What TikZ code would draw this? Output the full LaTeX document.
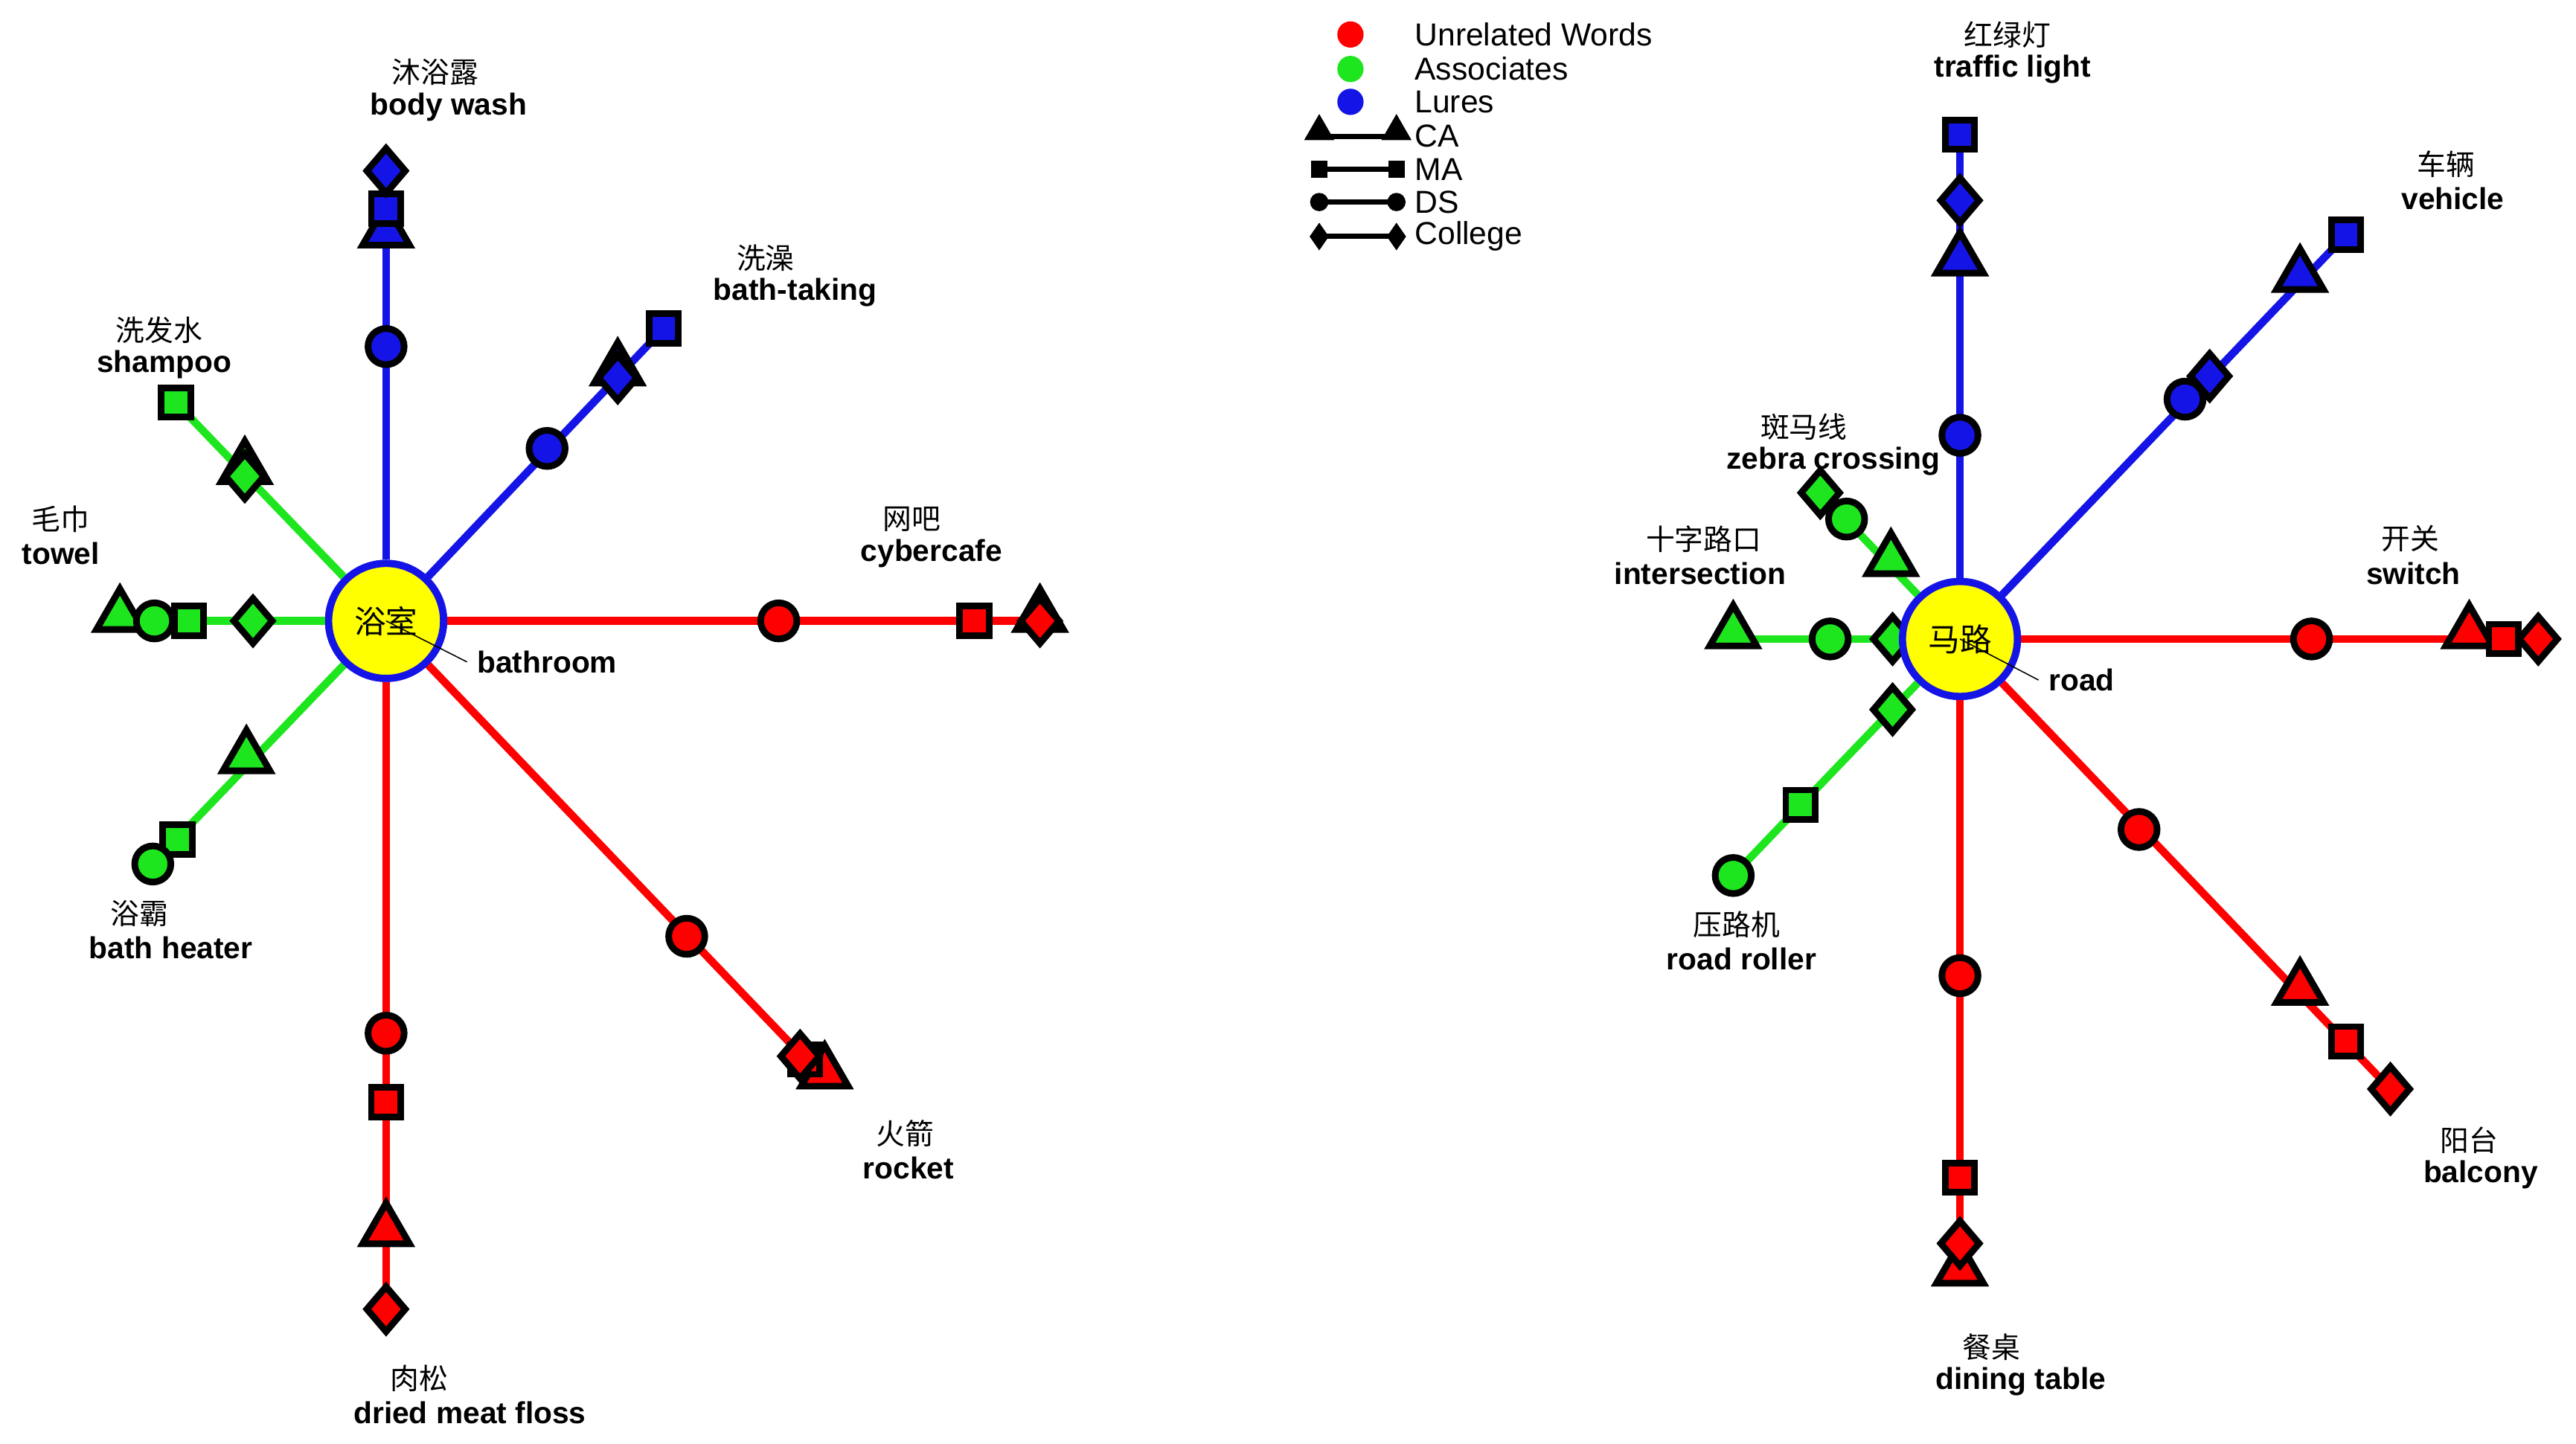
\documentclass[tikz,border=0pt]{standalone}
\usepackage{fontspec}
\setmainfont{Liberation Sans}
\newfontfamily\cjk{Noto Sans CJK SC}
\usetikzlibrary{shapes.geometric}
\definecolor{R}{RGB}{255,0,0}
\definecolor{G}{RGB}{30,230,30}
\definecolor{B}{RGB}{20,20,230}
\definecolor{Y}{RGB}{255,255,0}
\tikzset{
 spoke/.style={line width=2.7pt},
 mk/.style={draw=black,line width=2.3pt,inner sep=0pt},
 ci/.style={mk,circle,minimum size=0.44cm},
 sq/.style={mk,rectangle,minimum size=0.36cm},
 tr/.style={mk,regular polygon,regular polygon sides=3,minimum size=0.66cm},
 di/.style={mk,diamond,minimum width=0.5cm,minimum height=0.58cm},
 hub/.style={circle,draw=B,fill=Y,line width=2.5pt,minimum size=1.4cm,inner sep=0pt,font=\cjk\fontsize{11}{12}\selectfont},
 zh/.style={font=\cjk\fontsize{10}{12}\selectfont},
 en/.style={font=\bfseries\fontsize{10.5}{12}\selectfont},
 lg/.style={font=\fontsize{11}{12}\selectfont,anchor=west},
}
\newcommand\mk[4]{\node[#1,fill=#2] at (#3,#4) {};}
\begin{document}
\begin{tikzpicture}[x=0.02cm,y=-0.02cm]
\useasboundingbox (0,0) rectangle (1568,879);
% ---------- left hub ----------
\coordinate (a1) at (235,100); \coordinate (a2) at (404,200);
\coordinate (a3) at (107,245); \coordinate (a4) at (633,378);
\coordinate (a5) at (73,378);  \coordinate (a6) at (93,526);
\coordinate (a7) at (235,797); \coordinate (a8) at (500,655);
\node[hub] (h1) at (235,378) {};
\draw[spoke,B] (h1) -- (a1); \draw[spoke,B] (h1) -- (a2);
\draw[spoke,G] (h1) -- (a3); \draw[spoke,R] (h1) -- (a4);
\draw[spoke,G] (h1) -- (a5); \draw[spoke,G] (h1) -- (a6);
\draw[spoke,R] (h1) -- (a7); \draw[spoke,R] (h1) -- (a8);
\node[hub] (h1) at (235,378) {浴室};
\node[en] (l1) at (333,403) {bathroom}; \draw[thin] (h1.center) -- (l1.west);
% up
\mk{ci}{B}{235}{211}\mk{tr}{B}{235}{141}\mk{sq}{B}{235}{127}\mk{di}{B}{235}{104}
\node[zh] at (265,44) {沐浴露}; \node[en] at (273,65) {body wash};
% NE
\mk{ci}{B}{333}{273}\mk{tr}{B}{376}{225}\mk{di}{B}{376}{230}\mk{sq}{B}{404}{200}
\node[zh] at (466,157) {洗澡}; \node[en] at (484,178) {bath-taking};
% NW
\mk{sq}{G}{107}{245}\mk{tr}{G}{149}{285}\mk{di}{G}{149}{290}
\node[zh] at (97,201) {洗发水}; \node[en] at (100,222) {shampoo};
% right
\mk{ci}{R}{474}{378}\mk{sq}{R}{593}{378}\mk{tr}{R}{633}{375}\mk{di}{R}{633}{378}
\node[zh] at (555,316) {网吧}; \node[en] at (567,337) {cybercafe};
% left
\mk{tr}{G}{73}{375}\mk{ci}{G}{94}{378}\mk{sq}{G}{115}{378}\mk{di}{G}{154}{378}
\node[zh] at (37,316) {毛巾}; \node[en] at (37,337) {towel};
% SW
\mk{tr}{G}{150}{461}\mk{sq}{G}{108}{511}\mk{ci}{G}{93}{526}
\node[zh] at (85,556) {浴霸}; \node[en] at (104,577) {bath heater};
% down
\mk{ci}{R}{235}{629}\mk{sq}{R}{235}{671}\mk{tr}{R}{235}{749}\mk{di}{R}{235}{797}
\node[zh] at (255,839) {肉松}; \node[en] at (286,860) {dried meat floss};
% SE
\mk{ci}{R}{418}{570}\mk{tr}{R}{502}{653}\mk{sq}{R}{490}{645}\mk{di}{R}{487}{643}
\node[zh] at (551,690) {火箭}; \node[en] at (553,711) {rocket};
% ---------- right hub ----------
\coordinate (b1) at (1193,82);  \coordinate (b2) at (1428,143);
\coordinate (b3) at (1108,300); \coordinate (b4) at (1545,389);
\coordinate (b5) at (1055,389); \coordinate (b6) at (1055,533);
\coordinate (b7) at (1193,775); \coordinate (b8) at (1455,663);
\node[hub] (h2) at (1193,389) {};
\draw[spoke,B] (h2) -- (b1); \draw[spoke,B] (h2) -- (b2);
\draw[spoke,G] (h2) -- (b3); \draw[spoke,R] (h2) -- (b4);
\draw[spoke,G] (h2) -- (b5); \draw[spoke,G] (h2) -- (b6);
\draw[spoke,R] (h2) -- (b7); \draw[spoke,R] (h2) -- (b8);
% up
\mk{sq}{B}{1193}{82}\mk{di}{B}{1193}{122}\mk{tr}{B}{1193}{158}\mk{ci}{B}{1193}{265}
\node[zh] at (1222,21) {红绿灯}; \node[en] at (1225,42) {traffic light};
% NE
\mk{sq}{B}{1428}{143}\mk{tr}{B}{1400}{168}\mk{di}{B}{1345}{229}\mk{ci}{B}{1330}{243}
\node[zh] at (1489,100) {车辆}; \node[en] at (1493,121) {vehicle};
% NW
\mk{tr}{G}{1151}{341}\mk{di}{G}{1108}{300}\mk{ci}{G}{1124}{316}
\node[zh] at (1098,260) {斑马线}; \node[en] at (1116,281) {zebra crossing};
% left
\mk{tr}{G}{1055}{385}\mk{ci}{G}{1114}{389}\mk{di}{G}{1152}{389}
\node[zh] at (1037,328) {十字路口}; \node[en] at (1035,349) {intersection};
% right
\mk{ci}{R}{1407}{389}\mk{tr}{R}{1503}{385}\mk{sq}{R}{1524}{389}\mk{di}{R}{1545}{389}
\node[zh] at (1467,328) {开关}; \node[en] at (1469,349) {switch};
% SW
\mk{di}{G}{1152}{432}\mk{sq}{G}{1096}{490}\mk{ci}{G}{1055}{533}
\node[zh] at (1057,563) {压路机}; \node[en] at (1060,584) {road roller};
% down
\mk{ci}{R}{1193}{594}\mk{sq}{R}{1193}{717}\mk{tr}{R}{1193}{773}\mk{di}{R}{1193}{757}
\node[zh] at (1212,820) {餐桌}; \node[en] at (1230,841) {dining table};
% SE
\mk{ci}{R}{1302}{505}\mk{tr}{R}{1400}{602}\mk{sq}{R}{1428}{634}\mk{di}{R}{1455}{663}
\node[zh] at (1503,694) {阳台}; \node[en] at (1510,715) {balcony};
\node[hub] (h2b) at (1193,389) {马路};
\node[en] (l2) at (1267,414) {road}; \draw[thin] (h2b.center) -- (l2.west);
% ---------- legend ----------
\fill[R] (822,21) circle (8); \node[lg] at (855,21) {Unrelated Words};
\fill[G] (822,42) circle (8); \node[lg] at (855,42) {Associates};
\fill[B] (822,62) circle (8); \node[lg] at (855,62) {Lures};
\tikzset{lm/.style={draw=black,line width=1.2pt,fill=black,inner sep=0pt}}
\coordinate (c1) at (803,83); \coordinate (c2) at (850,83);
\draw[line width=1.8pt] (c1) -- (c2);
\node[lm,regular polygon,regular polygon sides=3,minimum size=0.34cm] at (803,80) {};
\node[lm,regular polygon,regular polygon sides=3,minimum size=0.34cm] at (850,80) {};
\node[lg] at (855,83) {CA};
\coordinate (c3) at (803,103); \coordinate (c4) at (850,103);
\draw[line width=1.8pt] (c3) -- (c4);
\node[lm,minimum size=0.16cm] at (c3) {}; \node[lm,minimum size=0.16cm] at (c4) {};
\node[lg] at (855,103) {MA};
\coordinate (c5) at (803,123); \coordinate (c6) at (850,123);
\draw[line width=1.8pt] (c5) -- (c6);
\node[lm,circle,minimum size=0.18cm] at (c5) {}; \node[lm,circle,minimum size=0.18cm] at (c6) {};
\node[lg] at (855,123) {DS};
\coordinate (c7) at (803,144); \coordinate (c8) at (850,144);
\draw[line width=1.8pt] (c7) -- (c8);
\node[lm,diamond,minimum width=0.2cm,minimum height=0.28cm] at (c7) {};
\node[lm,diamond,minimum width=0.2cm,minimum height=0.28cm] at (c8) {};
\node[lg] at (855,144) {College};
\end{tikzpicture}
\end{document}
